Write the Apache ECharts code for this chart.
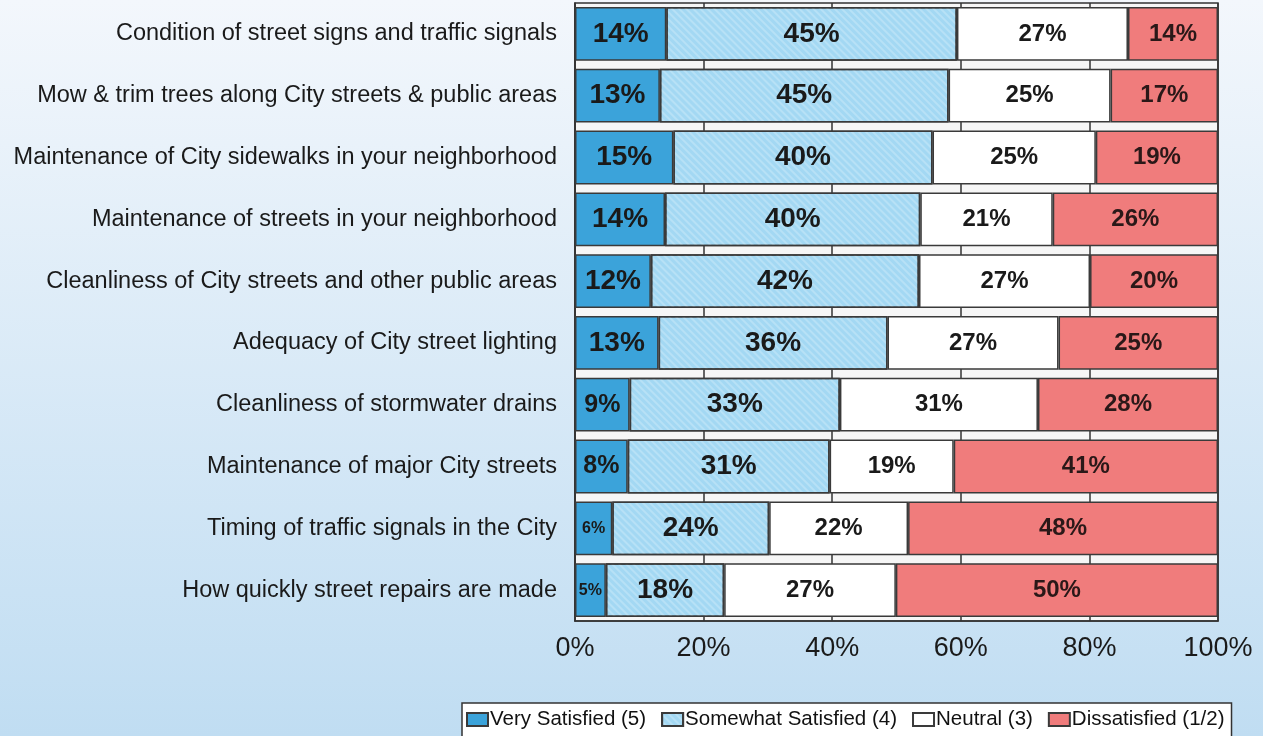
<!DOCTYPE html>
<html>
<head>
<meta charset="utf-8">
<script src="https://cdn.jsdelivr.net/npm/echarts@6/dist/echarts.min.js"></script>
<style>
html,body{margin:0;padding:0;}
#c{width:1263px;height:736px;}
</style>
</head>
<body>
<div id="c"></div>
<script>
const categories = [
  "Condition of street signs and traffic signals",
  "Mow & trim trees along City streets & public areas",
  "Maintenance of City sidewalks in your neighborhood",
  "Maintenance of streets in your neighborhood",
  "Cleanliness of City streets and other public areas",
  "Adequacy of City street lighting",
  "Cleanliness of stormwater drains",
  "Maintenance of major City streets",
  "Timing of traffic signals in the City",
  "How quickly street repairs are made"
];
const seriesNames = ["Very Satisfied (5)", "Somewhat Satisfied (4)", "Neutral (3)", "Dissatisfied (1/2)"];
const verySatisfied = [14.2, 13.2, 15.3, 14.0, 11.8, 13.0, 8.5, 8.2, 5.8, 4.8];
const somewhatSatisfied = [45.2, 44.9, 40.3, 39.7, 41.7, 35.6, 32.7, 31.4, 24.4, 18.4];
const neutral = [26.6, 25.2, 25.4, 20.6, 26.6, 26.6, 30.8, 19.3, 21.6, 26.7];
const dissatisfied = [14.0, 16.7, 19.0, 25.7, 19.9, 24.8, 28.0, 41.1, 48.2, 50.1];
const xTicks = [0, 20, 40, 60, 80, 100];

const colors = ["#3ba3da", "#a3d8f3", "#ffffff", "#f07c7c"];
const FONT = "'Liberation Sans', Arial, sans-serif";

function mkData(arr, baseSize) {
  return arr.map(v => ({
    value: v,
    label: { fontSize: v < 7 ? 16 : (v < 10 ? 25 : baseSize) }
  }));
}

const allVals = [verySatisfied, somewhatSatisfied, neutral, dissatisfied];
const baseSizes = [28, 28, 24, 24];
const textColors = ["#1a1a1a", "#1a1a1a", "#1a1a1a", "#2a1818"];

const series = allVals.map((arr, i) => ({
  name: seriesNames[i],
  type: 'bar',
  stack: 'total',
  barCategoryGap: '13%',
  data: mkData(arr, baseSizes[i]),
  itemStyle: Object.assign({
    color: colors[i],
    borderColor: '#3a3a3a',
    borderWidth: 1.5
  }, i === 1 ? {
    decal: {
      symbol: 'rect',
      symbolSize: 1,
      dashArrayX: [1, 0],
      dashArrayY: [2, 3],
      rotation: Math.PI / 4,
      color: 'rgba(255,255,255,0.22)'
    }
  } : {}),
  label: {
    show: true,
    position: 'inside',
    formatter: p => Math.round(p.value) + '%',
    fontFamily: FONT,
    fontWeight: 'bold',
    color: textColors[i]
  },
  emphasis: { disabled: true }
}));

const chart = echarts.init(document.getElementById('c'));
chart.setOption({
  animation: false,
  backgroundColor: {
    type: 'linear', x: 0, y: 0, x2: 0, y2: 1,
    colorStops: [{ offset: 0, color: '#f3f7fc' }, { offset: 1, color: '#c0ddf2' }]
  },
  textStyle: { fontFamily: FONT },
  grid: {
    left: 575, right: 45, top: 3, bottom: 115,
    show: true, backgroundColor: '#f6f6f6',
    borderColor: '#333', borderWidth: 1.5
  },
  legend: {
    data: seriesNames,
    icon: 'rect',
    left: 462, top: 703,
    backgroundColor: '#ffffff',
    borderColor: '#333', borderWidth: 1.5,
    padding: [6, 7, 12, 4],
    itemWidth: 21, itemHeight: 13, itemGap: 15,
    textStyle: { fontSize: 20.5, color: '#111', fontFamily: FONT, padding: [0, 0, 0, -3] },
    selectedMode: false
  },
  xAxis: {
    type: 'value',
    min: xTicks[0], max: xTicks[xTicks.length - 1], interval: 20,
    axisLine: { show: true, lineStyle: { color: '#333', width: 1.5 } },
    axisTick: { show: false },
    splitLine: { show: true, lineStyle: { color: '#333', width: 1.5 } },
    axisLabel: {
      formatter: v => v + '%',
      fontSize: 27, color: '#1a1a1a', margin: 14, fontFamily: FONT
    }
  },
  yAxis: {
    type: 'category',
    data: categories,
    inverse: true,
    axisLine: { show: true, lineStyle: { color: '#333', width: 1.5 } },
    axisTick: { show: false },
    axisLabel: { fontSize: 23.5, color: '#1a1a1a', margin: 18, fontFamily: FONT }
  },
  series: series
});
</script>
</body>
</html>
